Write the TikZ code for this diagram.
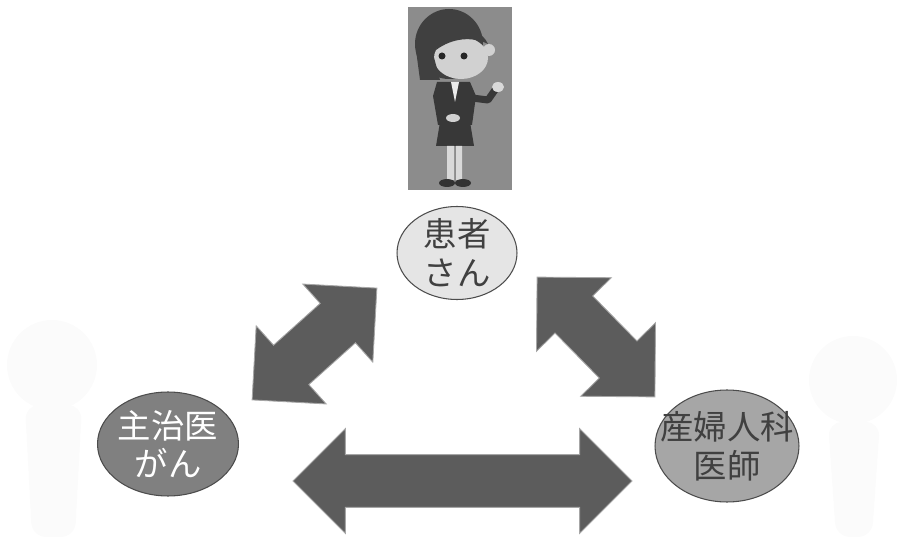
\documentclass[tikz,border=0pt]{standalone}
\usepackage{fontspec}
\newfontfamily\jpfont{Noto Sans CJK JP}
\usetikzlibrary{shapes.geometric,shapes.arrows,calc}

\begin{document}
\begin{tikzpicture}[x=0.02cm, y=-0.02cm,
  person/.style={ellipse, draw=black!70, line width=0.6pt, inner sep=0pt},
  person text/.style={font=\jpfont\fontsize{19}{22}\selectfont, align=center},
  fat arrow/.style={double arrow, double arrow head extend=0.52cm,
    inner xsep=0pt, inner ysep=0.52cm, fill=black!64, draw=black!35, line width=0.5pt}]

  \useasboundingbox (0,0) rectangle (897,537);

  % faint figures at both sides
  \fill[black!1.5] (52,365) circle (45);
  \fill[black!1.5, rounded corners=8pt] (25,405) -- (82,405) -- (75,537) -- (32,537) -- cycle;
  \fill[black!1.5] (853,380) circle (44);
  \fill[black!1.5, rounded corners=8pt] (828,422) -- (880,422) -- (872,537) -- (836,537) -- cycle;

  % the patient
  \begin{scope}
    \fill[black!45] (408,7) rectangle (512,190);
    \fill[black!75] (449,44) ellipse [x radius=34, y radius=35];
    \fill[black!18] (461,58) ellipse [x radius=27, y radius=21];
    \fill[black!75] (436,50) .. controls (444,26) and (478,22) .. (488,44)
      .. controls (472,36) and (452,38) .. (436,50);
    \fill[black!18] (489,50) circle (6);
    \fill[black!85] (442,56) circle (3.5) (464,56) circle (3.5);
    \fill[black!75] (416,50) -- (432,50) -- (440,80) -- (420,80) -- cycle;
    \fill[black!78] (437,82) -- (470,82) -- (476,96) -- (472,125)
      -- (438,125) -- (433,96) -- cycle;
    \fill[black!8] (451,82) -- (459,82) -- (455,102) -- cycle;
    \draw[black!78, line width=4pt, line cap=round, line join=round]
      (472,98) -- (488,100) -- (495,90);
    \fill[black!15] (498,87) ellipse [x radius=6, y radius=5];
    \fill[black!78] (440,122) -- (470,122) -- (474,146) -- (436,146) -- cycle;
    \fill[black!18] (453,118) ellipse [x radius=7, y radius=4];
    \fill[black!15] (447,146) rectangle (454,180) (456,146) rectangle (462,180);
    \fill[black!80] (447,183) ellipse [x radius=8, y radius=4]
      (463,183) ellipse [x radius=8, y radius=4];
  \end{scope}

  % people
  \node[person, fill=black!10, minimum width=2.4cm, minimum height=1.86cm,
    label={[person text, text=black!75]center:{患者\\さん}}] (pt) at (457,253) {};
  \node[person, fill=black!50, minimum width=2.82cm, minimum height=2.08cm,
    label={[person text, text=white]center:{主治医\\がん}}] (doc) at (168,444) {};
  \node[person, fill=black!35, minimum width=2.88cm, minimum height=2.24cm,
    label={[person text, text=black!75]center:{産婦人科\\医師}}] (gyn) at (727,446) {};

  % arrow ends
  \coordinate (a1) at (252,400);
  \coordinate (a2) at (377,288);
  \coordinate (b1) at (537,277);
  \coordinate (b2) at (655,397);
  \coordinate (c1) at (293,481);
  \coordinate (c2) at (632,481);

  \foreach \s/\e in {a1/a2, b1/b2, c1/c2}
    \path let \p1=($(\e)-(\s)$), \n1={veclen(\x1,\y1)} in
      (\s) -- (\e) node[midway, sloped, fat arrow, minimum height=\n1] {};
\end{tikzpicture}
\end{document}
